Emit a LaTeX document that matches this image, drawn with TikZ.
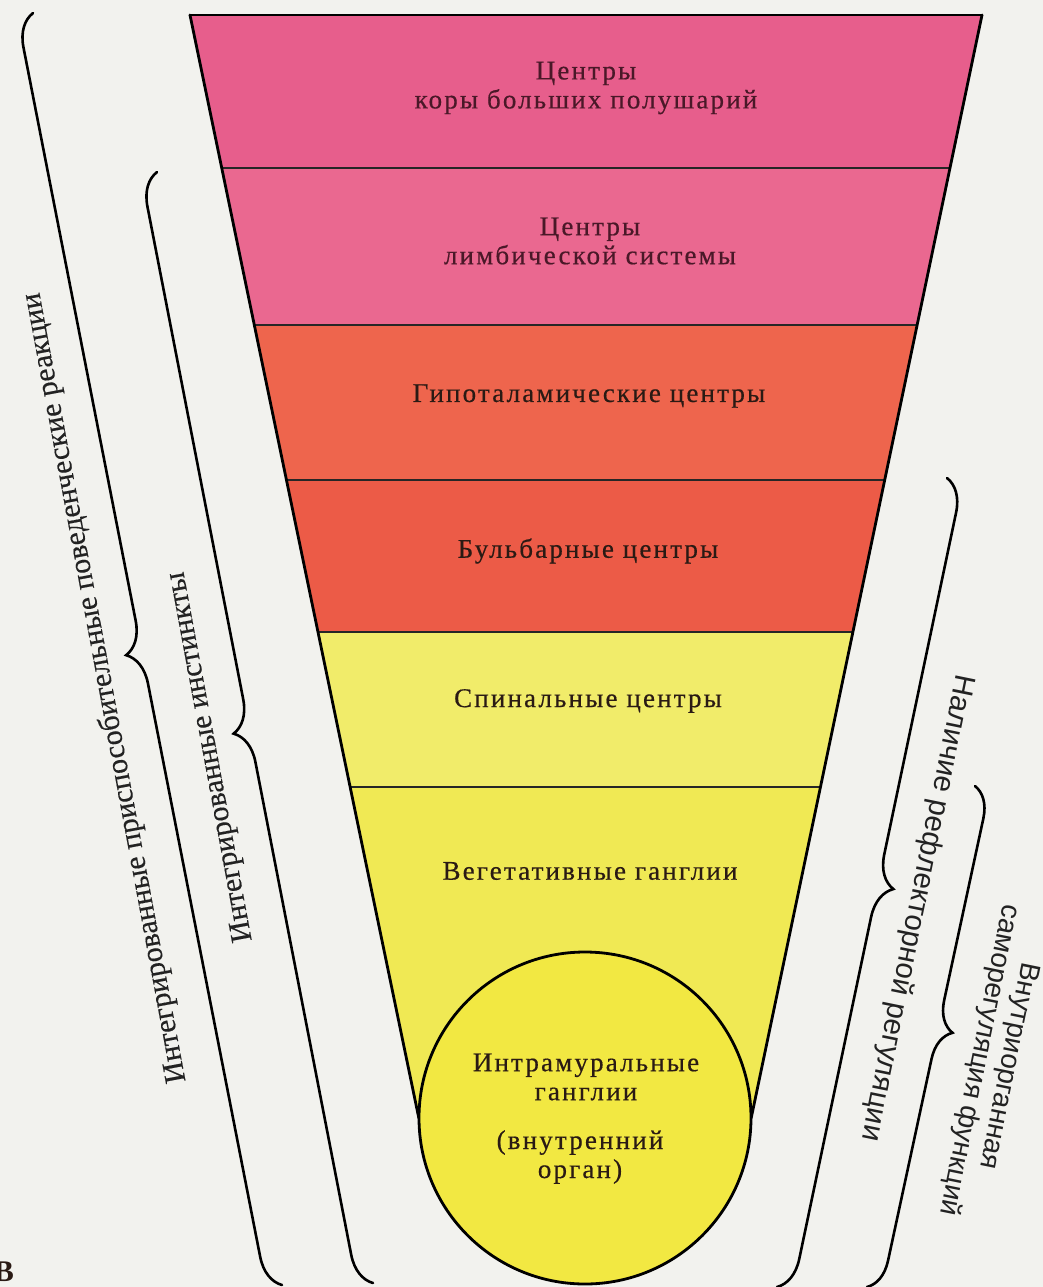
\documentclass[tikz,border=0pt]{standalone}
\usepackage{fontspec}
\setmainfont{Liberation Serif}
\newfontfamily\bandfont[LetterSpace=8,FakeBold=0.5]{Liberation Serif}
\newfontfamily\leftfont[FakeBold=0.3]{Liberation Serif}
\newfontfamily\sidefont{Liberation Sans}
\usetikzlibrary{calc,decorations.pathreplacing}

\definecolor{bg}{HTML}{F2F2EE}
\definecolor{cortex}{HTML}{E75E8C}
\definecolor{limbic}{HTML}{EA6890}
\definecolor{hypo}{HTML}{EE654D}
\definecolor{bulb}{HTML}{EC5B47}
\definecolor{spinal}{HTML}{F1EC6A}
\definecolor{veget}{HTML}{F0E954}
\definecolor{intram}{HTML}{F2E842}
\definecolor{inkpink}{HTML}{4A1828}
\definecolor{ink}{HTML}{2A1A14}
\definecolor{sideink}{HTML}{222222}

\tikzset{
  edge/.style={line width=2.8pt, black, line cap=round},
  sepline/.style={line width=2pt, black!85},
  bandtext/.style={font=\bandfont\fontsize{27}{29}\selectfont, align=center, inner sep=0pt},
  lefttext/.style={font=\leftfont\fontsize{30}{32}\selectfont, text=sideink, align=center, inner sep=0pt},
  sidetext/.style={font=\sidefont\fontsize{28}{30}\selectfont, text=sideink, align=center, inner sep=0pt},
  bracestyle/.style={line width=2.6pt, black, line cap=round, decorate, decoration={brace, amplitude=32pt}}
}

\begin{document}
\begin{tikzpicture}[x=1pt,y=-1pt]
\fill[bg] (0,0) rectangle (1043,1287);
\useasboundingbox (0,0) rectangle (1043,1287);

% organ circle (named, used for funnel end points)
\node[circle, minimum size=332pt, inner sep=0pt] (organ) at (585,1118) {};

\coordinate (TL) at (190,15);
\coordinate (TR) at (982,15);
\coordinate (W) at (organ.west);
\coordinate (E) at (organ.east);
\foreach \i/\t in {1/0.13871,2/0.28105,3/0.42157,4/0.55938,5/0.69991}{
  \coordinate (L\i) at ($(TL)!\t!(W)$);
  \coordinate (R\i) at ($(TR)!\t!(E)$);
}

% bands
\fill[cortex] (TL) -- (TR) -- (R1) -- (L1) -- cycle;
\fill[limbic] (L1) -- (R1) -- (R2) -- (L2) -- cycle;
\fill[hypo] (L2) -- (R2) -- (R3) -- (L3) -- cycle;
\fill[bulb] (L3) -- (R3) -- (R4) -- (L4) -- cycle;
\fill[spinal] (L4) -- (R4) -- (R5) -- (L5) -- cycle;
\fill[veget] (L5) -- (R5) -- (E) -- (W) -- cycle;

% separators
\foreach \i in {1,...,5}{ \draw[sepline] (L\i) -- (R\i); }

% outline
\draw[edge] (TL) -- (TR);
\draw[edge] (TL) -- (W);
\draw[edge] (TR) -- (E);

% circle
\draw[line width=2.8pt, fill=intram] (organ.center) circle[radius=166];

% band texts
\node[bandtext, text=inkpink] (tcortex) at (586,88) {Центры\\коры больших полушарий};
\node[bandtext, text=inkpink] (tlimbic) at (590,241) {Центры\\лимбической системы};
\node[bandtext, text=ink] (thypo) at (589,396) {Гипоталамические центры};
\node[bandtext, text=ink] (tbulb) at (588,551) {Бульбарные центры};
\node[bandtext, text=ink] (tspinal) at (588,701) {Спинальные центры};
\node[bandtext, text=ink] (tveget) at (590,871) {Вегетативные ганглии};
\node[bandtext, text=ink] (tintra) at (586,1077) {Интрамуральные\\ганглии};
\node[bandtext, text=ink] (torgan) at (580,1157) {(внутренний\\орган)};

% braces
\coordinate (b1top) at (33,13);   \coordinate (b1bot) at (282,1285);
\coordinate (b2top) at (157,172); \coordinate (b2bot) at (373,1283);
\coordinate (b3top) at (947,478); \coordinate (b3bot) at (777,1287);
\coordinate (b4top) at (975,786); \coordinate (b4bot) at (867,1287);
\draw[bracestyle] (b1bot) -- (b1top);
\draw[bracestyle] (b2bot) -- (b2top);
\draw[bracestyle] (b3top) -- (b3bot);
\draw[bracestyle, decoration={brace, amplitude=30pt, aspect=0.48}] (b4top) -- (b4bot);

% side labels
\node[lefttext, rotate=100.5] (s1) at (105,688) {Интегрированные приспособительные поведенческие реакции};
\node[lefttext, rotate=100.5] (s2) at (211,757) {Интегрированные инстинкты};
\node[sidetext, font=\sidefont\fontsize{29.5}{30}\selectfont, rotate=-101.5] (s3) at (917,908) {Наличие рефлекторной регуляции};
\node[sidetext, rotate=-101.5] (s4) at (993,1063) {Внутриорганная\\саморегуляция функций};

% cut-off mark at lower left corner
\node[font=\bfseries\fontsize{30}{30}\selectfont, text=ink, anchor=east, inner sep=0pt] (mark) at (14,1272) {В};
\end{tikzpicture}
\end{document}
